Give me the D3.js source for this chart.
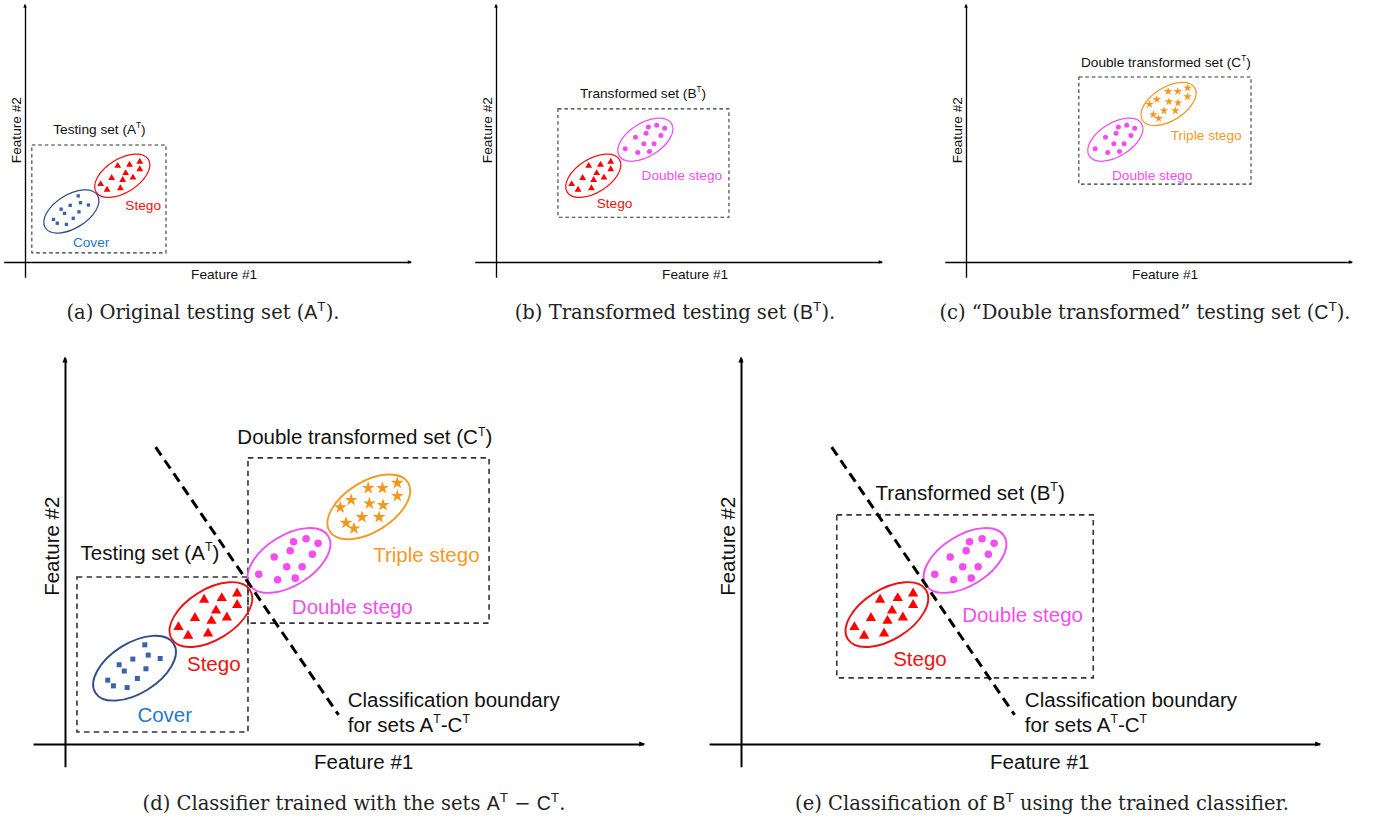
<!DOCTYPE html>
<html>
<head>
<meta charset="utf-8">
<script src="https://cdn.jsdelivr.net/npm/d3@7"></script>
<style>
  body { margin: 0; background: #fff; }
  svg { display: block; }
</style>
</head>
<body>
<svg id="fig" width="1375" height="825"></svg>
<script>
// ---- Sample positions in feature space (Feature #1, Feature #2) ----
const coverPoints = [
  [14.0, 17.4], [11.9, 14.9], [14.6, 15.6], [16.7, 15.0], [9.5, 13.9], [10.4, 12.8],
  [14.2, 13.2], [7.5, 11.2], [12.7, 11.5], [8.5, 10.2], [10.9, 9.9]
];
const stegoPoints = [
  [24.4, 25.3], [27.5, 25.6], [30.2, 26.4], [30.2, 24.4], [26.5, 23.4], [22.8, 22.1],
  [25.7, 21.6], [28.4, 22.2], [19.9, 20.5], [21.6, 19.0], [25.1, 19.4]
];
const doubleStegoPoints = [
  [40.1, 35.5], [42.3, 36.0], [44.4, 35.2], [39.5, 33.9], [43.4, 33.3], [36.7, 32.8],
  [38.9, 31.1], [41.6, 31.1], [34.0, 29.8], [37.3, 28.8], [40.4, 29.1]
];
const tripleStegoPoints = [
  [53.2, 44.9], [55.7, 44.9], [58.3, 45.8], [58.3, 43.5], [50.2, 42.8], [53.4, 42.2],
  [55.8, 41.9], [48.3, 41.5], [52.1, 39.8], [55.1, 39.8], [49.3, 38.8], [50.7, 37.8]
];

// ---- Clusters ----
const clusterLabels  = ["Cover", "Stego", "Double stego", "Triple stego"];
const clusterCenters = [[12.2, 13.3], [25.6, 22.7], [39.3, 32.2], [53.3, 41.6]];
const clusterPoints  = [coverPoints, stegoPoints, doubleStegoPoints, tripleStegoPoints];

// Classification boundary learnt on sets A-C (two end points in feature space)
const boundaryLine = [[15.9, 52.1], [48.0, 5.1]];

// Caption texts; {s:..} is set in sans-serif, {sup:..} is a superscript
const captions = [
  ["(a) Original testing set (", {s: "A"}, {sup: "T"}, ")."],
  ["(b) Transformed testing set (", {s: "B"}, {sup: "T"}, ")."],
  ["(c) \u201CDouble transformed\u201D testing set (", {s: "C"}, {sup: "T"}, ")."],
  ["(d) Classifier trained with the sets ", {s: "A"}, {sup: "T"}, " \u2212 ", {s: "C"}, {sup: "T"}, "."],
  ["(e) Classification of ", {s: "B"}, {sup: "T"}, " using the trained classifier."]
];

// ---- Styling ----
const SANS = "'Liberation Sans', Arial, Helvetica, sans-serif";
const SERIF = "'DejaVu Serif', serif";
const clusterStyle = [
  {mark: "#3b62ad", ring: "#2f4e8b", text: "#1f78c9", shape: d3.symbolSquare, r: 0.88},
  {mark: "#ff0000", ring: "#ee1111", text: "#ee1111", shape: d3.symbolTriangle, r: 1.80},
  {mark: "#f54cf2", ring: "#f04ef0", text: "#f24ff0", shape: d3.symbolCircle, r: 0.66},
  {mark: "#f7961c", ring: "#f29a26", text: "#f59a28", shape: d3.symbolStar, r: 1.18}
];

// symbol area for a given characteristic length (px)
function symbolArea(shape, len) {
  if (shape === d3.symbolSquare) return len * len;
  if (shape === d3.symbolTriangle) return len * len * 3 * Math.sqrt(3) / 12;
  if (shape === d3.symbolCircle) return Math.PI * len * len;
  return len * len / 0.8908130915292852; // star: len = outer radius
}

// ---- Panel layout ----
const panels = [
  { ox: 25, oy: 262, k: 3.8, clusters: [0, 1],
    labelPos: {0: [17.4, 3.9], 1: [31.1, 13.7]},
    sets: [{name: "Testing set", sym: "A", box: [1.8, 2.4, 37.1, 30.8], title: [19.6, 33.7]}] },
  { ox: 496, oy: 262, k: 3.8, clusters: [1, 2],
    labelPos: {1: [31.2, 14.2], 2: [48.9, 21.6]},
    sets: [{name: "Transformed set", sym: "B", box: [16.3, 11.8, 61.3, 40.3], title: [38.7, 43.2]}] },
  { ox: 966, oy: 262, k: 3.8, clusters: [2, 3],
    labelPos: {2: [49.0, 21.6], 3: [63.2, 32.1]},
    sets: [{name: "Double transformed set", sym: "C", box: [29.7, 20.5, 75.0, 48.7], title: [52.6, 51.3]}] },
  { ox: 65, oy: 744, k: 5.7, clusters: [0, 1, 2, 3],
    labelPos: {0: [17.5, 3.9], 1: [26.1, 12.8], 2: [50.4, 22.8], 3: [63.4, 31.9]},
    sets: [{name: "Testing set", sym: "A", box: [2.1, 2.1, 32.1, 29.3], title: [14.9, 32.3]},
           {name: "Double transformed set", sym: "C", box: [32.1, 21.2, 74.4, 50.2], title: [52.6, 52.6]}],
    boundary: true, note: [49.6, 6.5] },
  { ox: 741, oy: 744, k: 5.7, clusters: [1, 2],
    labelPos: {1: [31.4, 13.7], 2: [49.4, 21.4]},
    sets: [{name: "Transformed set", sym: "B", box: [16.8, 11.6, 61.8, 40.2], title: [40.2, 42.8]}],
    boundary: true, note: [49.8, 6.5] }
];
const captionX = [203, 675, 1145, 354, 1042];
const captionY = [319, 319, 319, 810, 810];

const svg = d3.select("#fig");

// writes a run of plain / sans / superscript pieces into a <text>
function richText(text, parts, size, supScale, sansFamily) {
  let lift = 0;
  parts.forEach(p => {
    const t = text.append("tspan");
    if (typeof p === "string") { t.text(p); }
    else if (p.s) { t.text(p.s).attr("font-family", sansFamily); }
    else if (p.sup) {
      t.text(p.sup).attr("font-family", sansFamily).attr("font-size", size * supScale)
       .attr("dy", -0.42 * size);
      lift = 0.42 * size;
      return;
    }
    if (lift) { t.attr("dy", lift); lift = 0; }
  });
}

panels.forEach(p => {
  const k = p.k;
  const x = d3.scaleLinear().domain([0, 100]).range([p.ox, p.ox + 100 * k]);
  const y = d3.scaleLinear().domain([0, 100]).range([p.oy, p.oy - 100 * k]);
  const g = svg.append("g");
  const fs = 3.6 * k;

  // dashed set boxes
  p.sets.forEach(s => {
    g.append("rect")
      .attr("x", x(s.box[0])).attr("y", y(s.box[3]))
      .attr("width", x(s.box[2]) - x(s.box[0])).attr("height", y(s.box[1]) - y(s.box[3]))
      .attr("fill", "none").attr("stroke", "#333")
      .attr("stroke-width", 0.28 * k).attr("stroke-dasharray", `${0.95 * k} ${0.75 * k}`);
    const t = g.append("text")
      .attr("x", x(s.title[0])).attr("y", y(s.title[1]))
      .attr("text-anchor", "middle").attr("font-family", SANS)
      .attr("font-size", fs).attr("fill", "#111");
    richText(t, [s.name + " (" + s.sym, {sup: "T"}, ")"], fs, 0.6, SANS);
  });

  // clusters: ellipse + samples + label
  p.clusters.forEach(ci => {
    const st = clusterStyle[ci];
    const [cx, cy] = clusterCenters[ci];
    g.append("ellipse")
      .attr("transform", `translate(${x(cx)},${y(cy)}) rotate(-32)`)
      .attr("rx", x(8.1) - x(0)).attr("ry", x(4.4) - x(0))
      .attr("fill", "none").attr("stroke", st.ring).attr("stroke-width", 0.33 * k);
    const sym = d3.symbol().type(st.shape).size(symbolArea(st.shape, st.r * k));
    g.selectAll(null).data(clusterPoints[ci]).join("path")
      .attr("transform", d => `translate(${x(d[0])},${y(d[1])})`)
      .attr("d", sym).attr("fill", st.mark);
    const lp = p.labelPos[ci];
    g.append("text")
      .attr("x", x(lp[0])).attr("y", y(lp[1]))
      .attr("text-anchor", "middle").attr("font-family", SANS)
      .attr("font-size", fs).attr("fill", st.text)
      .text(clusterLabels[ci]);
  });

  // classification boundary
  if (p.boundary) {
    g.append("path")
      .attr("d", d3.line().x(d => x(d[0])).y(d => y(d[1]))(boundaryLine))
      .attr("fill", "none").attr("stroke", "#000")
      .attr("stroke-width", 3).attr("stroke-dasharray", "10 6");
    g.append("text").attr("x", x(p.note[0])).attr("y", y(p.note[1]))
      .attr("font-family", SANS).attr("font-size", fs).attr("fill", "#111")
      .text("Classification boundary");
    const l2 = g.append("text").attr("x", x(p.note[0])).attr("y", y(p.note[1]) + 25)
      .attr("font-family", SANS).attr("font-size", fs).attr("fill", "#111");
    richText(l2, ["for sets A", {sup: "T"}, "-C", {sup: "T"}], fs, 0.6, SANS);
  }

  // axes (plain lines with arrow heads)
  const xa = d3.scaleLinear().domain([-5.6, 101.5]).range([x(-5.6), x(101.5)]);
  const ya = d3.scaleLinear().domain([-4, 67.7]).range([y(-4), y(67.7)]);
  const sw = Math.max(1.3, 0.35 * k);
  g.append("g").attr("transform", `translate(0,${y(0)})`)
    .call(d3.axisBottom(xa).tickValues([]).tickSizeOuter(0))
    .call(a => a.select(".domain").attr("stroke", "#000").attr("stroke-width", sw));
  g.append("g").attr("transform", `translate(${x(0)},0)`)
    .call(d3.axisLeft(ya).tickValues([]).tickSizeOuter(0))
    .call(a => a.select(".domain").attr("stroke", "#000").attr("stroke-width", sw));
  const al = 1.1 * k, aw = 0.45 * k;
  const xe = x(101.5), ye = y(67.7);
  g.append("path").attr("fill", "#000")
    .attr("d", `M${xe + al * 0.3},${y(0)} L${xe - al * 0.7},${y(0) - aw} L${xe - al * 0.7},${y(0) + aw} Z`);
  g.append("path").attr("fill", "#000")
    .attr("d", `M${x(0)},${ye - al * 0.3} L${x(0) - aw},${ye + al * 0.7} L${x(0) + aw},${ye + al * 0.7} Z`);

  // axis titles
  g.append("text").attr("x", x(52.4)).attr("y", y(0) + 4.4 * k)
    .attr("text-anchor", "middle").attr("font-family", SANS)
    .attr("font-size", fs).attr("fill", "#111").text("Feature #1");
  g.append("text")
    .attr("transform", `translate(${x(0) - 1.1 * k},${y(34.7)}) rotate(-90)`)
    .attr("text-anchor", "middle").attr("font-family", SANS)
    .attr("font-size", fs).attr("fill", "#111").text("Feature #2");
});

// sub-figure captions
captions.forEach((parts, i) => {
  const t = svg.append("text")
    .attr("x", captionX[i]).attr("y", captionY[i])
    .attr("text-anchor", "middle").attr("font-family", SERIF)
    .attr("font-size", 19.5).attr("fill", "#222");
  richText(t, parts, 19.5, 0.7, SANS);
});
</script>
</body>
</html>
